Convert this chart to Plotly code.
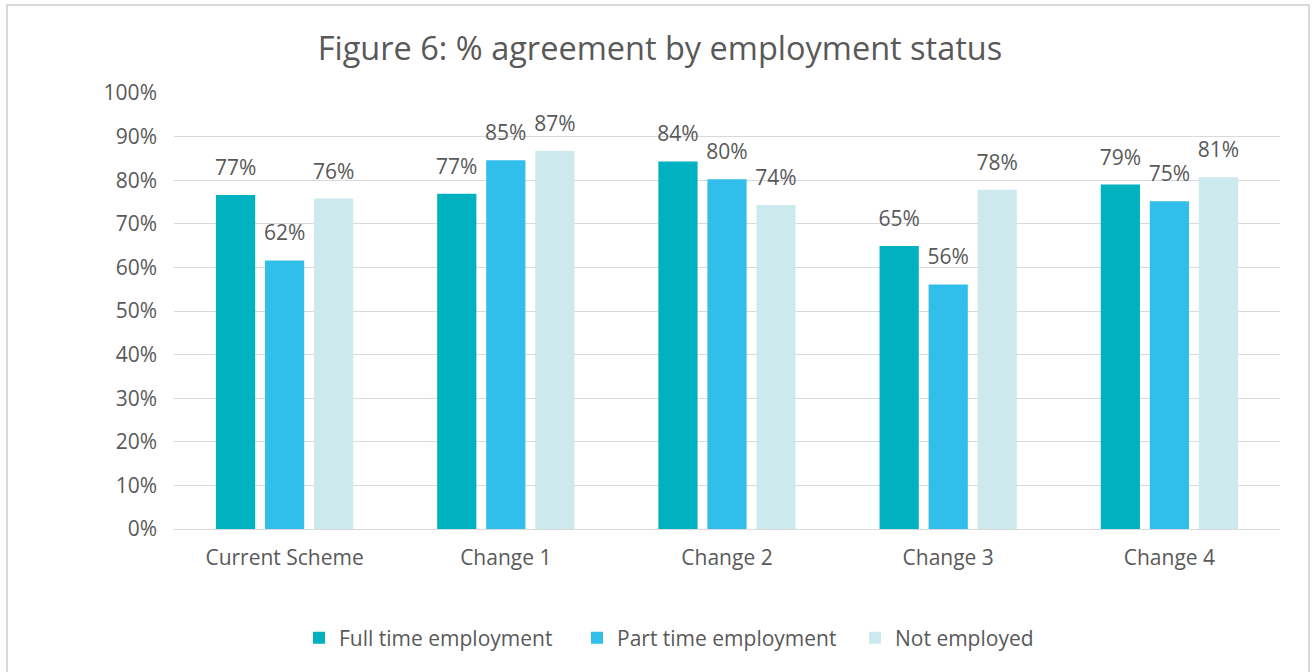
import plotly.graph_objects as go

categories = ["Current Scheme", "Change 1", "Change 2", "Change 3", "Change 4"]
full_time = [76.6, 76.9, 84.3, 64.9, 79.0]
part_time = [61.6, 84.6, 80.2, 56.1, 75.2]
not_employed = [75.8, 86.7, 74.3, 77.8, 80.7]
y_ticks = [0, 10, 20, 30, 40, 50, 60, 70, 80, 90, 100]
y_tick_labels = [f"{v}%" for v in y_ticks]

series = [
    ("Full time employment", full_time, "#00B2BF"),
    ("Part time employment", part_time, "#32BEEA"),
    ("Not employed", not_employed, "#CCEAEE"),
]

FONT = "Open Sans, Noto Sans, sans-serif"
GREY = "#595959"
W, H = 1314, 672

fig = go.Figure()
for i, (name, vals, color) in enumerate(series):
    fig.add_trace(go.Bar(
        name=name, x=categories, y=vals, marker_color=color,
        marker_line_width=0, offsetgroup=str(i), alignmentgroup="a",
    ))
for i, (name, vals, color) in enumerate(series):
    # data labels sit a little above each bar, like the original
    fig.add_trace(go.Scatter(
        x=categories, y=vals, mode="markers+text",
        offsetgroup=str(i), alignmentgroup="a",
        text=[f"{round(v)}%" for v in vals], textposition="top center",
        textfont=dict(size=21, color=GREY, family=FONT),
        marker=dict(size=22, opacity=0), showlegend=False, hoverinfo="skip",
    ))

fig.update_layout(
    width=W, height=H,
    barmode="group", bargap=0.335, bargroupgap=0.2,
    scattermode="group", scattergap=0.335,
    paper_bgcolor="white", plot_bgcolor="white",
    margin=dict(l=174, r=34, t=93, b=143),
    font=dict(family=FONT, size=21, color=GREY),
    title=dict(text="Figure 6: % agreement by employment status",
               x=660 / W, xref="container", xanchor="center",
               y=1 - 49 / H, yref="container", yanchor="middle",
               font=dict(size=32.5, color=GREY, family=FONT)),
    legend=dict(orientation="h", x=299 / W, xref="container", xanchor="left",
                y=1 - 638 / H, yref="container", yanchor="middle",
                font=dict(size=21, color=GREY, family=FONT),
                entrywidth=233, entrywidthmode="pixels",
                traceorder="normal"),
    showlegend=True,
)
fig.update_yaxes(range=[0, 100], tickvals=y_ticks, ticktext=y_tick_labels,
                 showgrid=True, gridcolor="#D9D9D9", gridwidth=1,
                 zeroline=False, showline=False, ticklabelstandoff=16,
                 fixedrange=True)
fig.update_xaxes(showline=True, linecolor="#D9D9D9", linewidth=1,
                 showgrid=False, ticklabelstandoff=10, fixedrange=True)

# light grey frame around the whole chart
fig.add_shape(type="rect", xref="paper", yref="paper",
              x0=-0.151, x1=1.0262, y0=-0.34, y1=1.2018,
              line=dict(color="#D9D9D9", width=2), fillcolor="rgba(0,0,0,0)",
              layer="below")

# drop the default page margin so the figure sits at the window's corner
fig.write_html("out.html", config={"displayModeBar": False},
               post_script="document.body.style.margin='0';")
